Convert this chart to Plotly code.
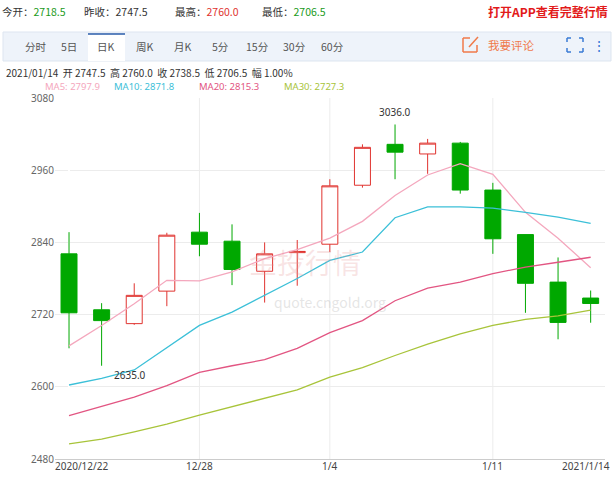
import plotly.graph_objects as go

dates = ["12/22", "12/23", "12/24", "12/25", "12/28", "12/29", "12/30", "12/31", "1/4",
         "1/5", "1/6", "1/7", "1/8", "1/11", "1/12", "1/13", "1/14"]
open_ = [2821, 2728, 2705, 2759, 2857, 2842, 2792, 2823, 2837, 2935, 3003, 2987, 3005, 2927, 2853, 2774, 2747.5]
high = [2857, 2739, 2772, 2856, 2889, 2870, 2840, 2844, 2945, 3003, 3036, 3012, 3007, 2939, 2853, 2815, 2760]
low = [2664, 2635, 2703, 2734, 2817, 2769, 2740, 2768, 2824, 2931, 2945, 2954, 2921, 2821, 2723, 2679, 2706.5]
close = [2723, 2710, 2752, 2852, 2837, 2795, 2821, 2825, 2934, 2998, 2990, 3005, 2927, 2846, 2772, 2707, 2738.5]
ma5 = [2668, 2702, 2738, 2777, 2776, 2791, 2813, 2828, 2847, 2875, 2918, 2952, 2971, 2953, 2890, 2847, 2797.9]
ma10 = [2603, 2614, 2628, 2665, 2702, 2724, 2752, 2780, 2810, 2824, 2881, 2899, 2899, 2897, 2890, 2882, 2871.8]
ma20 = [2552, 2568, 2583, 2602, 2624, 2635, 2645, 2664, 2690, 2710, 2743, 2764, 2774, 2788, 2799, 2807, 2815.3]
ma30 = [2505, 2513, 2525, 2538, 2553, 2567, 2580, 2595, 2616, 2632, 2652, 2671, 2688, 2702, 2712, 2718, 2727.3]
y_ticks = [2480, 2600, 2720, 2840, 2960, 3080]
x_labels = [(0, "2020/12/22"), (4, "12/28"), (8, "1/4"), (13, "1/11"), (16, "2021/1/14")]

FONT = "Noto Sans CJK SC, sans-serif"
NUMFONT = "Noto Sans, sans-serif"
x = list(range(len(dates)))

fig = go.Figure()
fig.add_trace(go.Candlestick(
    x=x, open=open_, high=high, low=low, close=close,
    increasing=dict(line=dict(color="#e0332f", width=1), fillcolor="white"),
    decreasing=dict(line=dict(color="#00a800", width=1), fillcolor="#00a800"),
    whiskerwidth=0, showlegend=False, hoverinfo="skip",
))
for vals, col in [(ma5, "#f4a7bd"), (ma10, "#3cc0d8"), (ma20, "#e25582"), (ma30, "#a8c43a")]:
    fig.add_trace(go.Scatter(x=x, y=vals, mode="lines", line=dict(color=col, width=1.3),
                             showlegend=False, hoverinfo="skip"))


def P(px, py):
    # screenshot pixel -> paper coordinates
    return (px - 55) / 550, (459 - py) / 361


ann = []
def txt(px, py, s, color="#333", size=10, anchor="left", family=FONT):
    a, b = P(px, py)
    ann.append(dict(x=a, y=b, xref="paper", yref="paper", text=s, showarrow=False,
                    xanchor=anchor, yanchor="middle", font=dict(color=color, size=size, family=family)))


shapes = []
def line(x0, y0, x1, y1, color, width=1.5):
    a0, b0 = P(x0, y0)
    a1, b1 = P(x1, y1)
    shapes.append(dict(type="line", xref="paper", yref="paper", x0=a0, y0=b0, x1=a1, y1=b1,
                       line=dict(color=color, width=width)))


# header row
for px, lab, val, col in [(0, "今开：", "2718.5", "#1a9a1a"), (82, "昨收：", "2747.5", "#333"),
                          (173, "最高：", "2760.0", "#e0332f"), (260, "最低：", "2706.5", "#1a9a1a")]:
    txt(px, 11, lab + f"<span style='color:{col}'>{val}</span>", size=10.5)
txt(610, 11, "<b>打开APP查看完整行情</b>", color="#e21a1a", size=12, anchor="right")

# tab bar
a0, b0 = P(3, 61)
a1, b1 = P(611, 32)
shapes.append(dict(type="rect", xref="paper", yref="paper", x0=a0, x1=a1, y0=b0, y1=b1,
                   fillcolor="#eef3fa", line=dict(color="#dde5f0", width=1), layer="below"))
a0, b0 = P(88, 61)
a1, b1 = P(125, 34)
shapes.append(dict(type="rect", xref="paper", yref="paper", x0=a0, x1=a1, y0=b0, y1=b1,
                   fillcolor="white", line=dict(width=0)))
line(88, 34, 125, 34, "#2a5caa")
for px, lab in [(36, "分时"), (69, "5日"), (106, "日K"), (145, "周K"), (183, "月K"), (220, "5分"),
                (257, "15分"), (294, "30分"), (332, "60分")]:
    txt(px, 46, lab, color="#555", size=10.5, anchor="center")
# comment icon
for seg in [(463, 38, 463, 52), (463, 52, 477, 52), (477, 52, 477, 45), (463, 38, 470, 38)]:
    line(*seg, "#f07a4a", 1.5)
line(469, 47, 478, 37, "#f07a4a", 1.5)
txt(486, 45, "我要评论", color="#f07a4a", size=11.5)
# fullscreen icon
for seg in [(567, 38, 571, 38), (567, 38, 567, 42), (579, 38, 583, 38), (583, 38, 583, 42),
            (567, 48, 567, 52), (567, 52, 571, 52), (583, 48, 583, 52), (579, 52, 583, 52)]:
    line(*seg, "#3a7bd5", 1.5)
txt(599, 45, "⋮", color="#3a7bd5", size=14, anchor="center")

txt(4, 72, "2021/01/14  开 2747.5  高 2760.0  收 2738.5  低 2706.5  幅 1.00%", size=10)
for px, s, col in [(43, "MA5: 2797.9", "#f4a7bd"), (112, "MA10: 2871.8", "#3cc0d8"),
                   (197, "MA20: 2815.3", "#e25582"), (282, "MA30: 2727.3", "#a8c43a")]:
    txt(px, 86, s, color=col, size=9.5, family=NUMFONT)

# watermark
txt(305, 262, "金投行情", color="rgba(230,150,150,0.25)", size=28, anchor="center")
txt(330, 302, "quote.cngold.org", color="rgba(180,180,180,0.35)", size=14, anchor="center")

# x labels
for xv, s in x_labels:
    anchor = "left" if xv == 0 else ("right" if xv == 16 else "center")
    ann.append(dict(x=xv, y=0, xref="x", yref="paper", text=s, showarrow=False, xanchor=anchor,
                    yanchor="top", yshift=2, xshift=-16 if xv == 0 else (21 if xv == 16 else 0),
                    font=dict(size=10, color="#444", family=NUMFONT)))

# extremes
ann.append(dict(x=10, y=3036, text="3036.0", showarrow=False, yanchor="bottom", yshift=3,
                font=dict(size=10, color="#333", family=NUMFONT)))
ann.append(dict(x=1, y=2635, text="2635.0", showarrow=False, xanchor="left", yanchor="top", xshift=10,
                font=dict(size=10, color="#333", family=NUMFONT)))

fig.update_layout(
    width=614, height=480, margin=dict(l=55, r=9, t=98, b=21),
    paper_bgcolor="white", plot_bgcolor="white",
    annotations=ann, shapes=shapes,
    font=dict(family=FONT, color="#555", size=10),
    xaxis=dict(range=[-0.43, 16.44], rangeslider=dict(visible=False), showgrid=False,
               showticklabels=False, showline=True, linecolor="#ccc", ticks=""),
    yaxis=dict(range=[2480, 3080], tickvals=y_ticks, gridcolor="#ececec", zeroline=False,
               showline=False, ticks="", tickfont=dict(size=10, color="#666", family=NUMFONT)),
)
for xv in [4, 8, 13]:
    fig.add_vline(x=xv, line=dict(color="#ececec", width=1), layer="below")

# drop the page's default 8px body margin so the figure sits at the corner
fig.write_html("out.html", config={"displayModeBar": False},
               post_script="document.body.style.margin='0';")
